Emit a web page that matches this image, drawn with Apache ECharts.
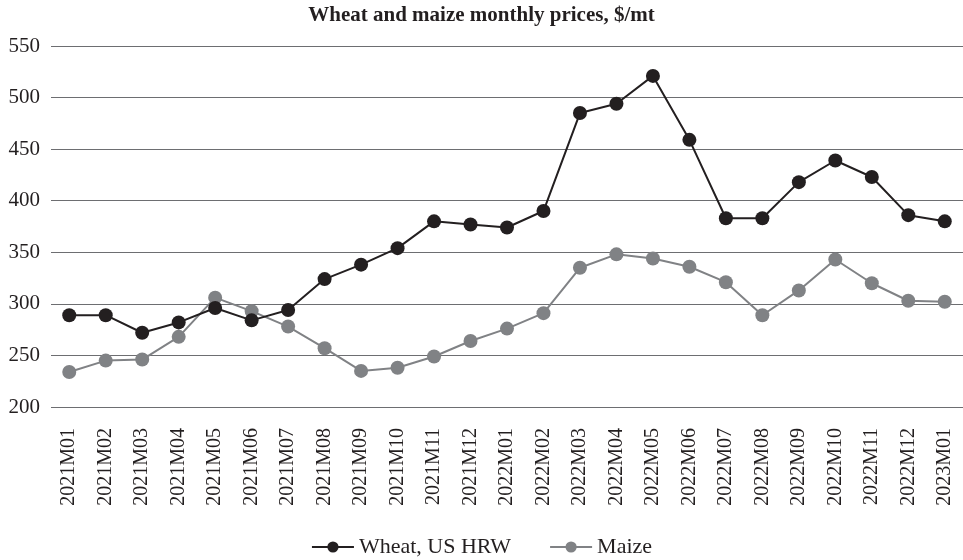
<!DOCTYPE html>
<html>
<head>
<meta charset="utf-8">
<script src="https://cdn.jsdelivr.net/npm/echarts@6/dist/echarts.min.js"></script>
<style>
  html, body { margin: 0; padding: 0; background: #fff; }
  #chart { width: 963px; height: 560px; }
</style>
</head>
<body>
<div id="chart"></div>
<script>
const months = [
  '2021M01', '2021M02', '2021M03', '2021M04', '2021M05', '2021M06', '2021M07',
  '2021M08', '2021M09', '2021M10', '2021M11', '2021M12', '2022M01', '2022M02',
  '2022M03', '2022M04', '2022M05', '2022M06', '2022M07', '2022M08', '2022M09',
  '2022M10', '2022M11', '2022M12', '2023M01'
]
const wheat = [289, 289, 272, 282, 296, 284, 294, 324, 338, 354, 380, 377, 374,
  390, 485, 494, 521, 459, 383, 383, 418, 439, 423, 386, 380]
const maize = [234, 245, 246, 268, 306, 293, 278, 257, 235, 238, 249, 264, 276,
  291, 335, 348, 344, 336, 321, 289, 313, 343, 320, 303, 302]

const serif = '"Liberation Serif", "DejaVu Serif", serif'
const chart = echarts.init(document.getElementById('chart'))
chart.setOption({
  animation: false,
  title: {
    text: 'Wheat and maize monthly prices, $/mt',
    left: 'center',
    top: 0,
    textStyle: { fontFamily: serif, fontSize: 21, fontWeight: 'bold', color: '#231f20' }
  },
  legend: {
    top: 531,
    left: 'center',
    itemWidth: 42,
    itemHeight: 14,
    itemGap: 38,
    textStyle: { fontFamily: serif, fontSize: 22, color: '#231f20' },
    data: ['Wheat, US HRW', 'Maize']
  },
  grid: { left: 51, right: 0, top: 46, bottom: 153 },
  xAxis: {
    type: 'category',
    data: months,
    axisLine: { show: false },
    axisTick: { show: false },
    axisLabel: {
      rotate: 90,
      interval: 0,
      margin: 21,
      fontFamily: serif,
      fontSize: 20,
      color: '#231f20'
    }
  },
  yAxis: {
    type: 'value',
    min: 200,
    max: 550,
    interval: 50,
    axisLine: { show: false },
    axisTick: { show: false },
    axisLabel: { fontFamily: serif, fontSize: 21, color: '#231f20', margin: 11 },
    splitLine: { lineStyle: { color: '#6d6e71', width: 1 } }
  },
  series: [
    {
      name: 'Wheat, US HRW',
      type: 'line',
      data: wheat,
      symbol: 'circle',
      symbolSize: 14,
      color: '#231f20',
      lineStyle: { width: 2, color: '#231f20' },
      itemStyle: { color: '#231f20' },
      z: 3
    },
    {
      name: 'Maize',
      type: 'line',
      data: maize,
      symbol: 'circle',
      symbolSize: 14,
      color: '#808285',
      lineStyle: { width: 2, color: '#808285' },
      itemStyle: { color: '#808285' },
      z: 2
    }
  ]
})
</script>
</body>
</html>
